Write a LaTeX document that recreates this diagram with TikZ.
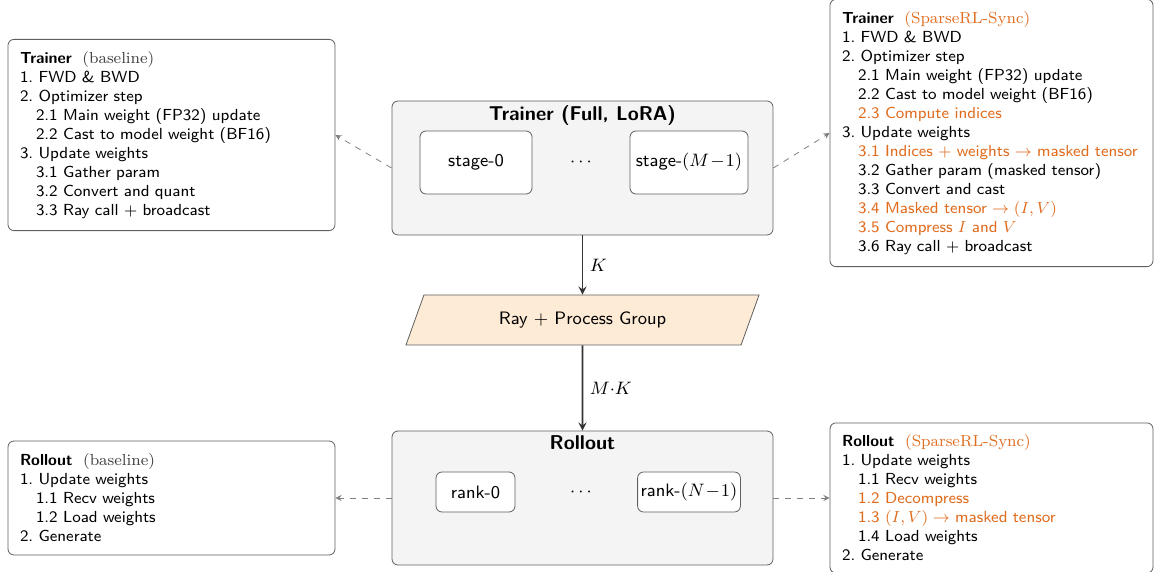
\documentclass[tikz,border=0pt]{standalone}
\usepackage{amsmath}
\usepackage{xcolor}
\usepackage{tikz}
\usetikzlibrary{positioning, arrows, shapes.geometric}
\renewcommand{\familydefault}{\sfdefault}
\frenchspacing

\definecolor{sparseorange}{RGB}{224,108,30}
\definecolor{groupfill}{RGB}{253,235,214}
\definecolor{boxline}{RGB}{95,95,95}

\newcommand{\subl}{\hspace*{1em}} % indents a sub step
\newcommand{\chg}[1]{\textcolor{sparseorange}{#1}} % marks a SparseRL-Sync step

\tikzset{
>=stealth, % makes the arrow heads bold
bigbox/.style={draw=boxline, fill=gray!9, rounded corners=3pt, minimum width=190.5pt, minimum height=67pt}, % trainer and rollout
workerbox/.style={draw=boxline, fill=white, rounded corners=3pt, font=\small}, % stages and ranks
notebox/.style={draw=boxline, fill=white, rounded corners=3pt, align=left, font=\footnotesize, inner sep=6pt}, % lists of steps
flow/.style={->, thick, draw=black!80}, % the weights path
link/.style={->, dashed, draw=gray}, % from a box to its list of steps
}

\begin{document}
\begin{tikzpicture}[x=1pt, y=1pt]
\useasboundingbox (0,0) rectangle (577.5,286);

% trainer
\node[bigbox] (trainer) at (291.25,202) {};
\node[font=\bfseries] (trainertitle) at ([yshift=-7.5pt]trainer.north) {Trainer (Full, LoRA)};
\node[workerbox, minimum width=56pt, minimum height=31.5pt] (stage0) at ([xshift=-53.25pt,yshift=2.75pt]trainer.center) {stage-0};
\node[workerbox, minimum width=59pt, minimum height=31.5pt, inner sep=2pt] (stagelast) at ([xshift=53.25pt,yshift=2.75pt]trainer.center) {stage-$(M\!-\!1)$};
\node[font=\small] (stagedots) at ([yshift=2.75pt]trainer.center) {$\cdots$};

% ray
\node[trapezium, trapezium left angle=71, trapezium right angle=109, trapezium stretches=true,
  minimum width=177.5pt, minimum height=25pt, draw=boxline, fill=groupfill, font=\small] (raypg) at (291.25,126) {Ray $+$ Process Group};

% rollout
\node[bigbox] (rollout) at (291.25,37) {};
\node[font=\bfseries] (rollouttitle) at ([yshift=-6pt]rollout.north) {Rollout};
\node[workerbox, minimum width=39.5pt, minimum height=20pt] (rank0) at ([xshift=-53.5pt,yshift=3pt]rollout.center) {rank-0};
\node[workerbox, minimum height=20pt, inner sep=1.5pt] (ranklast) at ([xshift=53.25pt,yshift=3pt]rollout.center) {rank-$(N\!-\!1)$};
\node[font=\small] (rankdots) at ([yshift=3pt]rollout.center) {$\cdots$};

\draw[flow] (trainer) -- node[right, font=\small] {$K$} (raypg);
\draw[flow] (raypg) -- node[right, font=\small] {$M{\cdot}K$} (rollout);

% lists of steps
\node[notebox, text width=151.5pt, minimum height=95pt] (trainerbase) at (85.75,218.5) {%
{\bfseries Trainer}\ \ {\rmfamily\color{black!75}(baseline)}\\
1. FWD \& BWD\\
2. Optimizer step\\
\subl 2.1 Main weight (FP32) update\\
\subl 2.2 Cast to model weight (BF16)\\
3. Update weights\\
\subl 3.1 Gather param\\
\subl 3.2 Convert and quant\\
\subl 3.3 Ray call $+$ broadcast};

\node[notebox, text width=149.5pt] (trainersparse) at (495.75,219.5) {%
{\bfseries Trainer}\ \ {\rmfamily\color{sparseorange}(SparseRL-Sync)}\\
1. FWD \& BWD\\
2. Optimizer step\\
\subl 2.1 Main weight (FP32) update\\
\subl 2.2 Cast to model weight (BF16)\\
\subl\chg{2.3 Compute indices}\\
3. Update weights\\
\subl\chg{3.1 Indices $+$ weights $\rightarrow$ masked tensor}\\
\subl 3.2 Gather param (masked tensor)\\
\subl 3.3 Convert and cast\\
\subl\chg{3.4 Masked tensor $\rightarrow (I,V)$}\\
\subl\chg{3.5 Compress $I$ and $V$}\\
\subl 3.6 Ray call $+$ broadcast};

\node[notebox, text width=151.5pt, minimum height=57pt] (rolloutbase) at (85.75,37) {%
{\bfseries Rollout}\ \ {\rmfamily\color{black!75}(baseline)}\\
1. Update weights\\
\subl 1.1 Recv weights\\
\subl 1.2 Load weights\\
2. Generate};

\node[notebox, text width=149.5pt] (rolloutsparse) at (495.75,37) {%
{\bfseries Rollout}\ \ {\rmfamily\color{sparseorange}(SparseRL-Sync)}\\
1. Update weights\\
\subl 1.1 Recv weights\\
\subl\chg{1.2 Decompress}\\
\subl\chg{1.3 $(I,V) \rightarrow$ masked tensor}\\
\subl 1.4 Load weights\\
2. Generate};

\draw[link] (trainer.west) -- (trainerbase.east);
\draw[link] (trainer.east) -- (trainersparse.west);
\draw[link] (rollout.west) -- (rolloutbase.east);
\draw[link] (rollout.east) -- (rolloutsparse.west);
\end{tikzpicture}
\end{document}
